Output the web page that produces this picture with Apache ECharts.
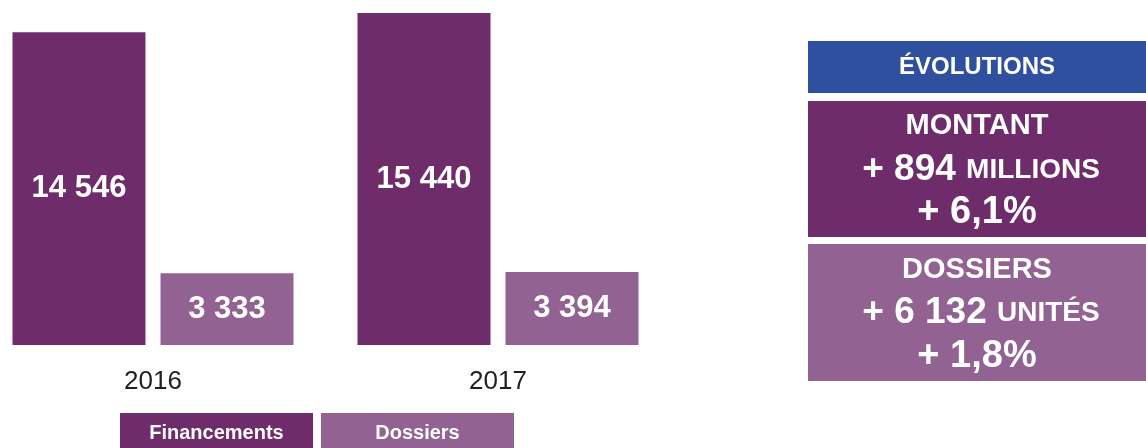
<!DOCTYPE html>
<html>
<head>
<meta charset="utf-8">
<script src="https://cdn.jsdelivr.net/npm/echarts@6/dist/echarts.min.js"></script>
<style>html,body{margin:0;padding:0;background:#fff}#c{width:1146px;height:448px}</style>
</head>
<body>
<div id="c"></div>
<script>
const categories = ['2016', '2017'];
const financements = [14546, 15440];
const dossiers = [3333, 3394];
const seriesNames = ['Financements', 'Dossiers'];

const C_DARK = '#6e2c6b', C_LIGHT = '#926392', C_BLUE = '#2f4f9f';
const FONT = '"Liberation Sans", Arial, sans-serif';

function fmt(v) { return String(v).replace(/\B(?=(\d{3})+(?!\d))/g, ' '); }

const chart = echarts.init(document.getElementById('c'));
const labelStyle = {
  show: true, position: 'inside', color: '#fff', fontWeight: 'bold',
  fontSize: 31, fontFamily: FONT, formatter: p => fmt(p.value)
};
chart.setOption({
  animation: false,
  textStyle: { fontFamily: FONT },
  grid: { left: 153, right: 648, top: 13, bottom: 103, containLabel: false },
  xAxis: {
    type: 'category', data: categories, boundaryGap: false,
    axisLine: { show: false }, axisTick: { show: false }, splitLine: { show: false },
    axisLabel: { fontSize: 26, color: '#231f20', margin: 24, fontFamily: FONT }
  },
  yAxis: { type: 'value', min: 0, max: 15440, show: false },
  legend: {
    left: 115, top: 413, padding: 0, itemWidth: 0, itemHeight: 0, itemGap: 3, icon: 'rect',
    selectedMode: false,
    data: seriesNames,
    formatter: n => n === 'Financements' ? '{f|' + n + '}' : '{d|' + n + '}',
    textStyle: {
      rich: {
        f: { backgroundColor: C_DARK, width: 193, height: 40, lineHeight: 40, align: 'center',
             color: '#fff', fontWeight: 'bold', fontSize: 20, fontFamily: FONT },
        d: { backgroundColor: C_LIGHT, width: 193, height: 40, lineHeight: 40, align: 'center',
             color: '#fff', fontWeight: 'bold', fontSize: 20, fontFamily: FONT }
      }
    }
  },
  series: [
    { name: seriesNames[0], type: 'bar', data: financements, barWidth: 133, barGap: '11.3%',
      clip: false, itemStyle: { color: C_DARK }, label: labelStyle },
    { name: seriesNames[1], type: 'bar', data: dossiers, barWidth: 133,
      clip: false, itemStyle: { color: C_LIGHT }, label: labelStyle }
  ],
  graphic: [
    { type: 'rect', shape: { x: 808, y: 41, width: 338, height: 52 }, style: { fill: C_BLUE } },
    { type: 'text', x: 977, y: 67, style: { text: 'ÉVOLUTIONS', fill: '#fff', font: 'bold 24px ' + FONT, align: 'center', verticalAlign: 'middle' } },
    { type: 'rect', shape: { x: 808, y: 101, width: 338, height: 136 }, style: { fill: C_DARK } },
    { type: 'text', x: 977, y: 126, style: { text: 'MONTANT', fill: '#fff', font: 'bold 29px ' + FONT, align: 'center', verticalAlign: 'middle' } },
    { type: 'text', x: 981, y: 170, style: { text: '{b|+ 894 }{s|MILLIONS}', align: 'center', verticalAlign: 'middle',
        rich: { b: { fill: '#fff', font: 'bold 37px ' + FONT },
                s: { fill: '#fff', font: 'bold 28px ' + FONT } } } },
    { type: 'text', x: 977, y: 213, style: { text: '+ 6,1%', fill: '#fff', font: 'bold 38px ' + FONT, align: 'center', verticalAlign: 'middle' } },
    { type: 'rect', shape: { x: 808, y: 244, width: 338, height: 137 }, style: { fill: C_LIGHT } },
    { type: 'text', x: 977, y: 270, style: { text: 'DOSSIERS', fill: '#fff', font: 'bold 29px ' + FONT, align: 'center', verticalAlign: 'middle' } },
    { type: 'text', x: 981, y: 313, style: { text: '{b|+ 6 132 }{s|UNITÉS}', align: 'center', verticalAlign: 'middle',
        rich: { b: { fill: '#fff', font: 'bold 37px ' + FONT },
                s: { fill: '#fff', font: 'bold 28px ' + FONT } } } },
    { type: 'text', x: 977, y: 357, style: { text: '+ 1,8%', fill: '#fff', font: 'bold 38px ' + FONT, align: 'center', verticalAlign: 'middle' } }
  ]
});
</script>
</body>
</html>
